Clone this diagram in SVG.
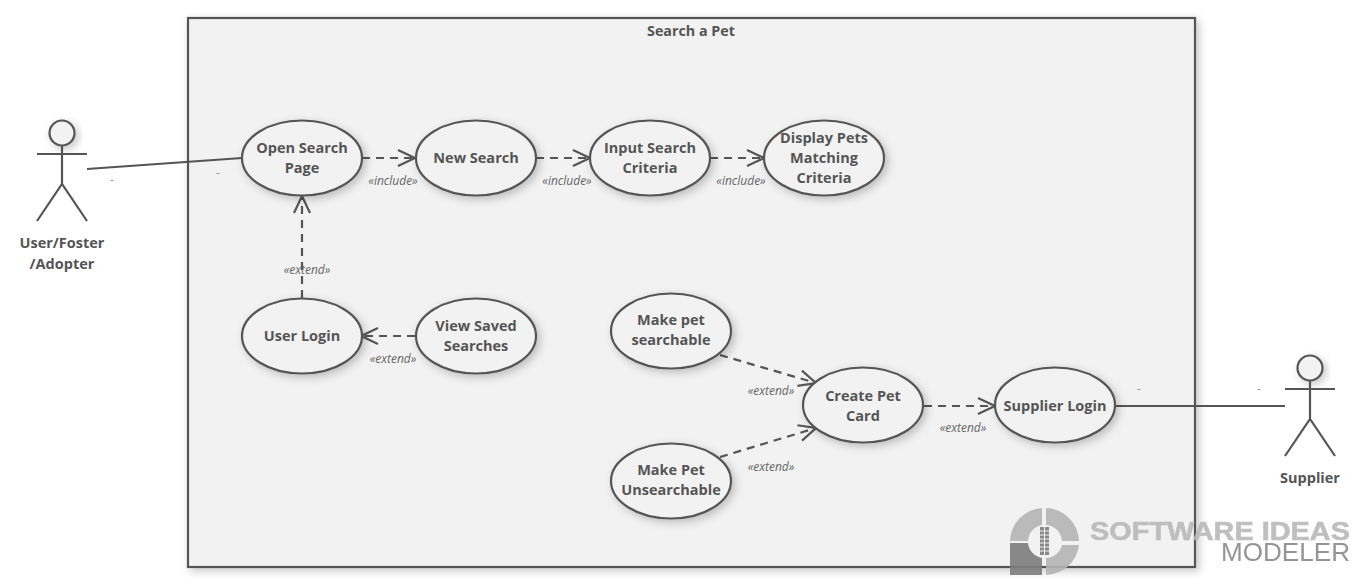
<svg xmlns="http://www.w3.org/2000/svg" width="1361" height="587" viewBox="0 0 1361 587">
<defs>
<filter id="sh" x="-20%" y="-20%" width="150%" height="150%"><feDropShadow dx="3" dy="3" stdDeviation="4" flood-color="#000" flood-opacity="0.22"/></filter>
<marker id="arr" markerUnits="userSpaceOnUse" markerWidth="20" markerHeight="20" refX="18" refY="10" orient="auto"><path d="M1 2 L18 10 L1 18" fill="none" stroke="#555" stroke-width="2.2"/></marker>
</defs>
<style>
text{font-family:"Open Sans","Noto Sans","Liberation Sans",sans-serif;fill:#555}
.n{font-size:14.5px;font-weight:700;text-anchor:middle}
.s{font-size:12px;font-style:italic;text-anchor:middle;fill:#666}
.d{font-size:12px;text-anchor:middle;fill:#999}
.uc{fill:#f2f2f2;stroke:#555;stroke-width:2.2;filter:url(#sh)}
.a{fill:none;stroke:#555;stroke-width:2.2;stroke-linecap:butt}
.c{fill:none;stroke:#555;stroke-width:2.2}
.dash{stroke-dasharray:8 6;marker-end:url(#arr)}
</style>
<rect width="1361" height="587" fill="#fff"/>
<g id="boundary"><rect x="188" y="18" width="1007" height="549" fill="#f2f2f2" stroke="#555" stroke-width="2.2" filter="url(#sh)"/><text class="n" x="691" y="36" style="font-size:14.300px">Search a Pet</text></g>
<g id="connectors">
<path class="c" d="M87 169 L242 158"/>
<path class="c" d="M1115 406 L1285 406"/>
<path class="c dash" d="M362 158 L415 158"/>
<path class="c dash" d="M536 158 L590 158"/>
<path class="c dash" d="M710 158 L764 158"/>
<path class="c dash" d="M302 298 L302 196"/>
<path class="c dash" d="M415 336 L361 336"/>
<path class="c dash" d="M720 355 L816 383"/>
<path class="c dash" d="M720 457 L816 428"/>
<path class="c dash" d="M924 406 L995 406"/>
<text class="s" x="393" y="185">«include»</text>
<text class="s" x="567" y="185">«include»</text>
<text class="s" x="741" y="185">«include»</text>
<text class="s" x="307" y="274">«extend»</text>
<text class="s" x="393" y="363">«extend»</text>
<text class="s" x="771" y="395">«extend»</text>
<text class="s" x="771" y="471">«extend»</text>
<text class="s" x="963" y="432">«extend»</text>
<text class="d" x="112" y="184">-</text>
<text class="d" x="218" y="177">-</text>
<text class="d" x="1139" y="393">-</text>
<text class="d" x="1259" y="393">-</text>
</g>
<g id="actor-user"><circle cx="62" cy="133" r="12.5" fill="#f2f2f2" stroke="#555" stroke-width="2.2" filter="url(#sh)"/><path class="a" d="M37 154 H87 M62 146 V184 M37 221 L62 184 L87 221"/><text class="n" x="62" y="248">User/Foster</text><text class="n" x="62" y="269">/Adopter</text></g>
<g id="actor-supplier"><circle cx="1310" cy="368" r="12.5" fill="#f2f2f2" stroke="#555" stroke-width="2.2" filter="url(#sh)"/><path class="a" d="M1285 389 H1335 M1310 381 V419 M1285 456 L1310 419 L1335 456"/><text class="n" x="1310" y="483">Supplier</text></g>
<g id="open-search"><ellipse class="uc" cx="302" cy="158" rx="60" ry="37.500"/><text class="n" x="302" y="153">Open Search</text><text class="n" x="302" y="173">Page</text></g>
<g id="new-search"><ellipse class="uc" cx="476" cy="158" rx="60" ry="37.500"/><text class="n" x="476" y="163">New Search</text></g>
<g id="input-criteria"><ellipse class="uc" cx="650" cy="158" rx="60" ry="37.500"/><text class="n" x="650" y="153">Input Search</text><text class="n" x="650" y="173">Criteria</text></g>
<g id="display-pets"><ellipse class="uc" cx="824" cy="158" rx="60" ry="37.500"/><text class="n" x="824" y="143">Display Pets</text><text class="n" x="824" y="163">Matching</text><text class="n" x="824" y="183">Criteria</text></g>
<g id="user-login"><ellipse class="uc" cx="302" cy="336" rx="60" ry="37.500"/><text class="n" x="302" y="341">User Login</text></g>
<g id="view-saved"><ellipse class="uc" cx="476" cy="336" rx="60" ry="37.500"/><text class="n" x="476" y="331">View Saved</text><text class="n" x="476" y="351">Searches</text></g>
<g id="make-searchable"><ellipse class="uc" cx="671" cy="331" rx="60" ry="37.500"/><text class="n" x="671" y="325">Make pet</text><text class="n" x="671" y="345">searchable</text></g>
<g id="make-unsearchable"><ellipse class="uc" cx="671" cy="481" rx="60" ry="37.500"/><text class="n" x="671" y="475">Make Pet</text><text class="n" x="671" y="495">Unsearchable</text></g>
<g id="create-card"><ellipse class="uc" cx="863" cy="405" rx="60" ry="37.500"/><text class="n" x="863" y="401">Create Pet</text><text class="n" x="863" y="421">Card</text></g>
<g id="supplier-login"><ellipse class="uc" cx="1055" cy="405" rx="60" ry="37.500"/><text class="n" x="1055" y="411">Supplier Login</text></g>
<g id="watermark" opacity="0.9">
<path d="M1042 508 A34 34 0 0 0 1010 541 L1028 541 A17 17 0 0 1 1042 525 Z M1046 508 A34 34 0 0 1 1079 541 L1062 541 A17 17 0 0 0 1046 525 Z M1079 545 A34 34 0 0 1 1046 575 L1046 558 A17 17 0 0 0 1062 545 Z" fill="#b4b4b4"/>
<path d="M1010 543 L1028 543 A17 17 0 0 0 1042 558 L1042 575 L1010 575 Z" fill="#7d7d7d"/>
<path d="M1040 527 H1049 V555 H1040 Z" fill="#7d7d7d"/>
<path d="M1040 531 H1049 M1040 535 H1049 M1040 539 H1049 M1040 543 H1049 M1040 547 H1049 M1040 551 H1049 M1044.500 527 V555" stroke="#f2f2f2" stroke-width="1" fill="none"/>
<text x="1090" y="540" textLength="260" lengthAdjust="spacingAndGlyphs" style="font-family:'Liberation Sans',sans-serif;font-size:25px;font-weight:700;fill:#b9b9b9;stroke:#b9b9b9;stroke-width:0.6">SOFTWARE IDEAS</text>
<text x="1221" y="561" textLength="129" lengthAdjust="spacingAndGlyphs" style="font-family:'Liberation Sans',sans-serif;font-size:25px;fill:#8a8a8a">MODELER</text>
</g>
</svg>
